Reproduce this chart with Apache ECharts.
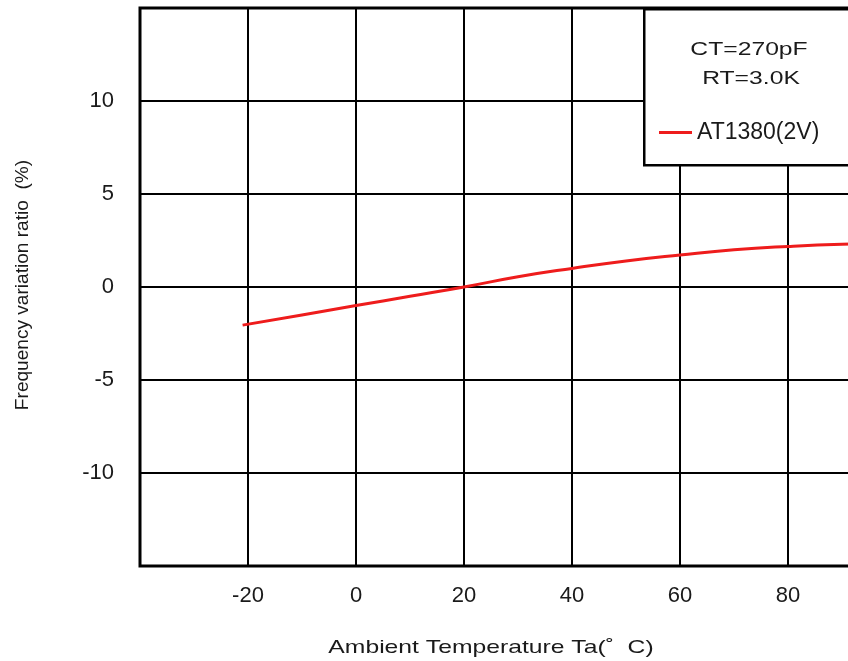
<!DOCTYPE html>
<html><head><meta charset="utf-8">
<script src="https://cdn.jsdelivr.net/npm/echarts@6/dist/echarts.min.js"></script>
<style>html,body{margin:0;padding:0;background:#fff;overflow:hidden}#c{width:950px;height:661px}</style>
</head><body><div id="c"></div>
<script>
var temps = [-21, -10, 0, 10, 20, 30, 40, 50, 60, 70, 80, 90, 100];
var ratio = [-2.05, -1.5, -1.0, -0.5, 0.0, 0.55, 1.0, 1.4, 1.72, 2.0, 2.18, 2.3, 2.35];
var seriesName = 'AT1380(2V)';
var noteLines = ['CT=270pF', 'RT=3.0K'];
var xTitle = 'Ambient Temperature Ta(\u02DA  C)';
var yTitle = 'Frequency variation ratio  (%)';

var chart = echarts.init(document.getElementById('c'), null, {width: 950, height: 661});
var font = 'Liberation Sans, Arial, sans-serif';
var SX = 1.3;
chart.setOption({
  animation: false,
  grid: {left: 140, right: 54, top: 8, bottom: 95, outerBoundsMode: 'none', show: true, borderColor: '#000', borderWidth: 3},
  xAxis: {
    type: 'value', min: -40, max: 100, interval: 20,
    axisLine: {show: false}, axisTick: {show: false},
    splitLine: {lineStyle: {color: '#000', width: 2}},
    axisLabel: {showMinLabel: false, color: '#1a1a1a', fontSize: 22, fontFamily: font, margin: 19}
  },
  yAxis: {
    type: 'value', min: -15, max: 15, interval: 5,
    axisLine: {show: false}, axisTick: {show: false},
    splitLine: {lineStyle: {color: '#000', width: 2}},
    axisLabel: {showMinLabel: false, showMaxLabel: false, color: '#1a1a1a', fontSize: 22, fontFamily: font, margin: 26}
  },
  legend: {
    data: [seriesName], left: 659, top: 121, z: 20, padding: 0, itemWidth: 33, itemHeight: 3, icon: 'rect',
    itemGap: 8,
    textStyle: {fontSize: 23, color: '#1a1a1a', fontFamily: font, padding: [0, 0, 0, 0]}
  },
  graphic: [
    {type: 'rect', left: 643, top: 8, z: 10, shape: {width: 300, height: 156},
     style: {fill: '#fff', stroke: '#000', lineWidth: 2.5}},
    {type: 'text', x: 749, y: 50, z: 11, scaleX: SX, style: {text: noteLines[0], font: '19px ' + font, fill: '#1a1a1a', textAlign: 'center', textVerticalAlign: 'middle'}},
    {type: 'text', x: 751, y: 78.5, z: 11, scaleX: SX, style: {text: noteLines[1], font: '19px ' + font, fill: '#1a1a1a', textAlign: 'center', textVerticalAlign: 'middle'}},
    {type: 'text', x: 491, y: 648, scaleX: SX, style: {text: xTitle, font: '19px ' + font, fill: '#1a1a1a', textAlign: 'center', textVerticalAlign: 'middle'}},
    {type: 'text', x: 23, y: 285, rotation: Math.PI / 2, scaleX: 1.06, style: {text: yTitle, font: '18px ' + font, fill: '#1a1a1a', textAlign: 'center', textVerticalAlign: 'middle'}}
  ],
  series: [{
    name: seriesName, type: 'line', smooth: true, symbol: 'none',
    data: temps.map(function (t, i) { return [t, ratio[i]]; }),
    lineStyle: {color: '#ee1c1c', width: 3}, itemStyle: {color: '#ee1c1c'}, z: 5
  }]
});
</script></body></html>
